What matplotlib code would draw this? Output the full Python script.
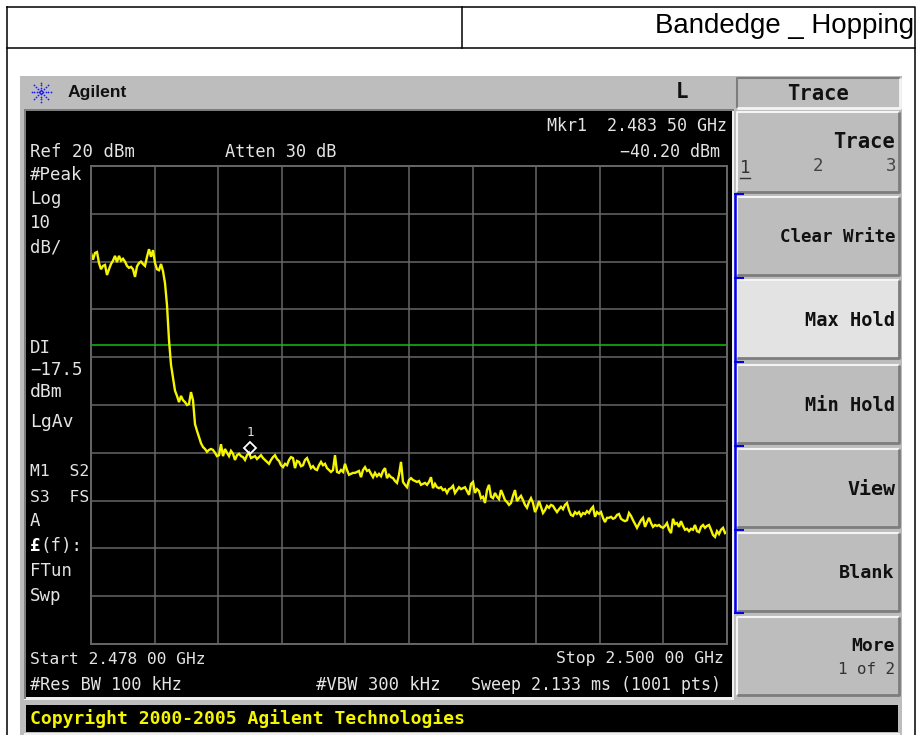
#!/usr/bin/env python3

import numpy as np
from matplotlib import pyplot as plt
from matplotlib.patches import Rectangle

# Sweep settings
start_ghz = 2.478
stop_ghz = 2.500
ref_dbm = 20
db_per_div = 10
display_line_dbm = -17.5
marker_ghz = 2.4835
marker_dbm = -38.9  # the diamond sits a little above the trace

trace_plateau = [1.8, 0.4, 1.8, 2.0, -0.3, -1.6, -0.9, -0.7, -2.8, -1.6, -0.5, 0.2, 1.2, -0.1, 1.2, 0.2,
                 0.6, 0.0, -0.9, -1.3, -1.1, -1.6, -3.2, -1.0, -0.3, 0.0, -0.5, -0.9, 1.0, 2.6, 1.0, 2.4,
                 -0.3, -1.6, -1.8, -0.5, -2.0]
trace_edge = [-4.5, -9.1, -16.4, -21.6, -24.3, -27.0, -28.1, -29.4, -28.1, -29.0, -29.4, -30.0, -29.8, -27.3,
              -29.0, -34.0, -35.4, -36.7, -38.0, -38.8]
trace_low = [-39.2, -39.8, -39.4, -39.2, -39.4, -40.0, -40.7, -40.5, -38.2, -40.7, -39.2, -40.0, -40.7, -39.6,
             -40.2, -41.5, -40.5, -40.2, -40.7, -40.9, -41.5, -40.5, -40.0, -41.1, -40.9, -40.7, -41.3, -40.9,
             -40.5, -41.1, -41.5, -41.9, -42.3, -41.5, -40.9, -40.5, -41.3, -41.7, -42.6, -43.0, -42.3, -42.6,
             -41.5, -40.9, -41.1, -43.2, -41.7, -41.9, -42.8, -42.6, -41.5, -41.1, -42.1, -43.2, -42.8, -43.4,
             -43.6, -42.6, -41.9, -42.6, -42.3, -43.2, -43.6]
trace_mid = [-44.0, -43.6, -40.5, -44.0, -44.2, -43.6, -44.0, -42.3, -43.6, -44.6, -44.4, -44.2, -44.2, -44.0,
             -43.8, -45.1, -43.6, -43.0, -43.8, -43.6, -44.4, -45.1, -44.2, -44.9, -44.4, -44.9, -43.8, -43.2,
             -45.3, -44.6, -45.1, -45.3, -45.9, -46.3, -44.6, -41.9, -46.1, -46.7, -47.2, -45.7, -45.3, -45.7,
             -45.9, -46.1, -45.9, -46.7, -46.5, -46.3, -46.7, -46.1, -45.1, -47.4, -46.5, -47.2, -47.4, -47.2,
             -47.8, -47.6, -48.4, -47.6, -47.4, -46.9, -48.4, -47.8, -47.2, -47.6, -47.4]
trace_high = [-47.2, -48.0, -48.8, -46.5, -46.1, -48.4, -47.6, -48.0, -49.5, -49.2, -50.5, -47.8, -46.7, -49.2,
              -49.5, -48.4, -49.2, -49.7, -47.8, -48.8, -49.9, -50.3, -50.9, -50.5, -49.0, -47.8, -50.1, -49.5,
              -49.0, -49.9, -50.9, -51.5, -50.3, -49.5, -50.5, -52.4, -51.5, -50.1, -51.3, -52.6, -52.0, -51.1,
              -51.5, -50.9, -51.1, -51.8, -52.4, -51.8, -51.3, -51.8, -50.9, -50.5, -52.0, -53.0, -53.2, -52.4,
              -52.8, -52.4, -53.2, -52.6, -52.8, -52.2, -52.6, -51.8, -51.3, -53.4, -52.4, -52.8, -52.4]
trace_end = [-53.6, -54.5, -53.6, -53.6, -53.4, -53.8, -53.6, -53.0, -52.8, -53.8, -54.1, -54.3, -54.1, -52.6,
             -53.2, -54.1, -54.9, -55.7, -54.9, -54.1, -53.6, -55.5, -54.5, -53.6, -54.7, -55.5, -55.1, -55.3,
             -55.1, -55.5, -55.7, -55.3, -54.7, -56.1, -56.8, -53.8, -54.9, -54.7, -55.5, -54.3, -55.3, -56.1,
             -55.9, -56.4, -55.9, -56.1, -55.1, -56.4, -56.6, -55.5, -55.1, -55.7, -55.3, -55.1, -56.1, -57.2,
             -57.6, -56.4, -57.0, -56.1, -55.7, -56.8, -56.6]

trace_dbm = trace_plateau + trace_edge + trace_low + trace_mid + trace_high + trace_end
freq_ghz = np.linspace(start_ghz, stop_ghz, len(trace_dbm))

# Softkey and left column texts
softkey_labels = ["Clear Write", "Max Hold", "Min Hold", "View", "Blank"]
left_notes = ["#Peak", "Log", "10", "dB/", "DI", "\u221217.5", "dBm", "LgAv", "M1  S2", "S3  FS", "A", "FTun", "Swp"]

# Layout in image pixels
key_rows = [(197, 275), (280, 358), (365, 443), (449, 527), (533, 611)]
key_sizes = [12.6, 13.4, 13.4, 14.4, 13.2]
left_rows = [175, 199, 223, 247, 348, 370, 392, 422, 471, 497, 521, 571, 596]
left_sizes = [12.5, 12.5, 12.5, 12.5, 12.5, 12.5, 13, 13, 11.8, 11.8, 12.5, 12.5, 12.5]

MONO = "DejaVu Sans Mono"
SCREEN_TXT = "#e4e4e4"
GRID = "#666666"


def key_box(ax, x0, y0, x1, y1, face, sunken=False):
    # raised button: light top and left edge, dark bottom and right edge
    hi, lo = ("#7d7d7d", "#f4f4f4") if sunken else ("#f4f4f4", "#7d7d7d")
    ax.add_patch(Rectangle((x0, y0), x1 - x0, y1 - y0, fc=face, ec="none"))
    ax.plot([x0, x0, x1], [y1, y0, y0], color=hi, lw=1.5, solid_capstyle="butt")
    ax.plot([x0, x1, x1], [y1, y1, y0], color=lo, lw=2, solid_capstyle="butt")


fig = plt.figure(figsize=(9.17, 7.35), dpi=100, facecolor="white")

# Background axes in image pixels, for the instrument frame and the labels
bg = fig.add_axes([0, 0, 1, 1])
bg.set_xlim(0, 917)
bg.set_ylim(735, 0)
bg.axis("off")

# Table border around the screenshot
bg.plot([7, 915, 915], [6.5, 6.5, 735], color="black", lw=1.1)
bg.plot([7, 7], [6.5, 735], color="black", lw=1.1)
bg.plot([7, 915], [47.5, 47.5], color="black", lw=1.1)
bg.plot([461.5, 461.5], [6.5, 47.5], color="black", lw=1.1)
bg.text(914, 26, "Bandedge _ Hopping", family="Liberation Sans", fontsize=19.9, ha="right", va="center",
        color="black")

# Instrument body and black screen
bg.add_patch(Rectangle((20, 76), 882, 659, fc="#bdbdbd", ec="none"))
bg.add_patch(Rectangle((24, 109), 710, 591, fc="#f0f0f0", ec="none"))
bg.add_patch(Rectangle((24, 109), 710, 2, fc="#7d7d7d", ec="none"))
bg.add_patch(Rectangle((24, 109), 2, 590, fc="#7d7d7d", ec="none"))
bg.add_patch(Rectangle((26, 111), 706, 586, fc="black", ec="none"))
bg.add_patch(Rectangle((24, 733), 876, 2, fc="#f0f0f0", ec="none"))
bg.add_patch(Rectangle((26, 705), 872, 27, fc="black", ec="none"))

# Agilent spark logo
for ang in np.arange(0, 360, 45):
    r = np.arange(2, 11, 2.5)
    bg.scatter(41 + r * np.cos(np.radians(ang)), 92 + r * np.sin(np.radians(ang)), s=1.6, color="#1a1aee",
               lw=0)
bg.text(68, 92, "Agilent", family="Liberation Sans", weight="bold", fontsize=12.6, va="center", color="#111111")
bg.text(682, 92, "L", family=MONO, weight="bold", fontsize=15, ha="center", va="center", color="#111111")

# Softkeys
key_box(bg, 737, 78, 900, 108, "#bdbdbd", sunken=True)
bg.text(818, 94, "Trace", family=MONO, weight="bold", fontsize=14.8, ha="center", va="center", color="#111111")
key_box(bg, 737, 112, 899, 192, "#bdbdbd")
bg.text(895, 142, "Trace", family=MONO, weight="bold", fontsize=14.8, ha="right", va="center", color="#111111")
bg.text(740, 168, "1", family=MONO, fontsize=12.5, va="center", color="#333333")
bg.plot([740, 750], [178, 178], color="#333333", lw=1)
bg.text(818, 166, "2", family=MONO, fontsize=12.5, ha="center", va="center", color="#444444")
bg.text(896, 166, "3", family=MONO, fontsize=12.5, ha="right", va="center", color="#444444")
for i, label in enumerate(softkey_labels):
    top, bottom = key_rows[i]
    face = "#e3e3e3" if label == "Max Hold" else "#bdbdbd"
    key_box(bg, 737, top, 899, bottom, face)
    bg.text(895, (top + bottom) / 2 + 1, label, family=MONO, weight="bold", fontsize=key_sizes[i], ha="right",
            va="center", color="#111111")
key_box(bg, 737, 617, 899, 695, "#bdbdbd")
bg.text(895, 646, "More", family=MONO, weight="bold", fontsize=13, ha="right", va="center", color="#111111")
bg.text(895, 670, "1 of 2", family=MONO, fontsize=11.4, ha="right", va="center", color="#333333")

# Blue bracket beside the softkeys
bg.plot([735, 735], [193, 613], color="#0000ee", lw=1.8, solid_capstyle="butt")
for tick_y in [194, 278, 362, 446, 530, 613]:
    bg.plot([734, 744], [tick_y, tick_y], color="#0000ee", lw=1.5, solid_capstyle="butt")

# Screen text
bg.text(30, 152, "Ref 20 dBm", family=MONO, fontsize=12.5, va="center", color=SCREEN_TXT)
bg.text(225, 152, "Atten 30 dB", family=MONO, fontsize=12.2, va="center", color=SCREEN_TXT)
bg.text(727, 126, "Mkr1  2.483 50 GHz", family=MONO, fontsize=12, ha="right", va="center", color=SCREEN_TXT)
bg.text(720, 152, "\u221240.20 dBm", family=MONO, fontsize=12, ha="right", va="center", color=SCREEN_TXT)
for i, text in enumerate(left_notes):
    bg.text(30, left_rows[i], text, family=MONO, fontsize=left_sizes[i], va="center", color=SCREEN_TXT)
bg.text(30, 546, "\u00a3", family=MONO, weight="bold", fontsize=12.5, va="center", color="white")
bg.text(40, 546, "(f):", family=MONO, fontsize=12.5, va="center", color=SCREEN_TXT)
bg.text(30, 659, "Start 2.478 00 GHz", family=MONO, fontsize=11.7, va="center", color=SCREEN_TXT)
bg.text(724, 659, "Stop 2.500 00 GHz", family=MONO, fontsize=11.8, ha="right", va="center", color=SCREEN_TXT)
bg.text(30, 685, "#Res BW 100 kHz", family=MONO, fontsize=12.2, va="center", color=SCREEN_TXT)
bg.text(316, 685, "#VBW 300 kHz", family=MONO, fontsize=12.4, va="center", color=SCREEN_TXT)
bg.text(721, 685, "Sweep 2.133 ms (1001 pts)", family=MONO, fontsize=12, ha="right", va="center", color=SCREEN_TXT)
bg.text(30, 719, "Copyright 2000-2005 Agilent Technologies", family=MONO, weight="bold", fontsize=13, va="center",
        color="#f5f500")

# Trace graticule, 10 by 10 divisions, in real units
ax = fig.add_axes([91 / 917, 1 - 644 / 735, 636 / 917, 478 / 735], facecolor="black")
ax.set_xlim(start_ghz, stop_ghz)
ax.set_ylim(ref_dbm - 10 * db_per_div, ref_dbm)
ax.set_xticks(np.linspace(start_ghz, stop_ghz, 11))
ax.set_yticks(np.arange(ref_dbm - 10 * db_per_div, ref_dbm + 1, db_per_div))
ax.tick_params(length=0, labelbottom=False, labelleft=False)
ax.grid(True, color=GRID, lw=1.1)
ax.set_axisbelow(True)
for side in ax.spines.values():
    side.set_color(GRID)
    side.set_linewidth(1.4)

ax.axhline(display_line_dbm, color="#10c010", lw=1.1)
ax.plot(freq_ghz, trace_dbm, color="#f5f500", lw=1.7, solid_joinstyle="miter")
ax.plot([marker_ghz], [marker_dbm], marker="D", ms=6.5, mfc="none", mec="white", mew=1.3, ls="none")
ax.annotate("1", (marker_ghz, marker_dbm), xytext=(0, 6.5), textcoords="offset points", ha="center", va="bottom",
            family=MONO, fontsize=9, color=SCREEN_TXT)

fig.savefig("out.png", dpi=100)
